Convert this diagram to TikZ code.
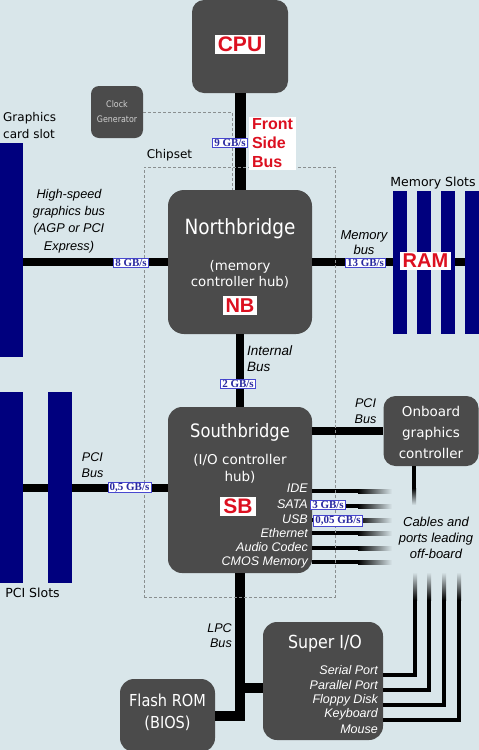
\documentclass[tikz,border=0pt]{standalone}
\usepackage{fontspec}
\setmainfont{Liberation Sans}
\newfontfamily\dv{DejaVu Sans}
\newfontfamily\dvc[FakeStretch=0.88]{DejaVu Sans}
\newfontfamily\tms{Liberation Serif}
\newcommand\fsz[2]{\fontsize{#1}{#2}\selectfont}
\definecolor{bgc}{HTML}{D9E6EA}
\definecolor{boxc}{HTML}{4B4B4B}
\definecolor{slotc}{HTML}{00007E}
\definecolor{redc}{HTML}{DC1020}
\definecolor{ratec}{HTML}{2A2AA0}
\definecolor{rateb}{HTML}{4848D0}
\definecolor{dashc}{HTML}{8A8F90}
\definecolor{clkc}{HTML}{D0D0D0}
\begin{document}
\begin{tikzpicture}[x=1pt,y=-1pt,
  chip/.style={fill=boxc, rounded corners=#1, inner sep=0pt, draw=none},
  chip/.default=12pt,
  slotbar/.style={fill=slotc, inner sep=0pt, draw=none, anchor=north west},
  busw/.style={line width=#1, line join=miter},
  cable/.style={line width=4pt, line join=miter},
  rate/.style={draw=rateb, fill=white, text=ratec, font=\tms\bfseries\fsz{11}{11}, line width=0.8pt, inner xsep=1.6pt, inner ysep=0.8pt},
  redlab/.style={fill=white, text=redc, font=\bfseries\fsz{#1}{#1}, inner xsep=3pt, inner ysep=2.5pt},
  wtitle/.style={text=white, font=\dvc\fsz{#1}{#1}, inner sep=0pt},
  wsub/.style={text=white, align=center, inner sep=0pt},
  ilab/.style={align=center, inner sep=0pt},
  wlist/.style={text=white, font=\itshape\fsz{12.5}{12.5}, anchor=east, inner sep=0pt},
  plainlab/.style={inner sep=0pt},
  dashl/.style={draw=dashc, dash pattern=on 3pt off 2pt, line width=0.9pt},
]
\useasboundingbox (0,0) rectangle (479,750);
\clip (0,0) rectangle (479,750);
\fill[bgc] (0,0) rectangle (479,750);

% ---- boxes (placed first for anchors) ----
\node[chip=12pt, minimum width=96pt, minimum height=93pt] (cpu) at (240,46.5) {};
\node[chip=8pt, minimum width=52pt, minimum height=52pt] (clk) at (117,112) {};
\node[chip=16pt, minimum width=144pt, minimum height=144pt] (nb) at (240,262) {};
\node[chip=14pt, minimum width=144pt, minimum height=166pt] (sb) at (240,490) {};
\node[chip=12pt, minimum width=95pt, minimum height=70pt] (ogc) at (431,431) {};
\node[chip=14pt, minimum width=120pt, minimum height=118pt] (sio) at (323,681) {};
\node[chip=14pt, minimum width=95pt, minimum height=73pt] (flash) at (167.5,715.5) {};

% ---- coordinates for free ends ----
\coordinate (memend) at (479,262);
\coordinate (pcist) at (0,488);
\coordinate (fsbj) at (232,112);
\coordinate (oc) at (414,488);
\coordinate (k1) at (415,600);
\coordinate (k2) at (429,600);
\coordinate (k3) at (444,600);
\coordinate (k4) at (459,600);
\coordinate (o1) at (358,491);
\coordinate (o2) at (358,506);
\coordinate (o3) at (358,520);
\coordinate (o4) at (358,533);
\coordinate (o5) at (358,548);
\coordinate (o6) at (358,562);
\path (sio.west) ++(0,7) coordinate (sioj);

% ---- slots (nodes) ----
\node[slotbar, minimum width=23pt, minimum height=214pt] (gslot) at (0,143) {};

% ---- buses ----
\draw[busw=11pt] (cpu.south) -- (nb.north);
\draw[busw=8pt] (gslot.east |- nb.west) -- (nb.west);
\draw[busw=8pt] (nb.east) -- (memend);
\draw[busw=8pt] (nb.south) -- (sb.north);
\draw[busw=8pt] (pcist) -- (sb.west |- pcist);
\draw[busw=8pt] (sb.east |- ogc.west) -- (ogc.west);
\draw[busw=10pt] (sb.south) -- (sb.south |- flash.east) -- (flash.east);
\draw[busw=10pt] (sb.south |- sioj) -- (sioj);

% SB outputs fading
\foreach \c in {o1,o2,o3,o4,o5,o6}{
  \draw[cable] (sb.east |- \c) -- (\c);
  \path (\c) ++(0,-2) coordinate (a) (\c) ++(34,2) coordinate (b);
  \shade[left color=black, right color=bgc] (a) rectangle (b);
}
% onboard graphics down
\draw[cable] (ogc.south -| oc) -- (oc);
\shade[top color=black, bottom color=bgc] (412,488) rectangle (416,505);
% super io cables
\draw[cable] (sio.east) ++(0,-6) -| (k1);
\draw[cable] (sio.east) ++(0,9) -| (k2);
\draw[cable] (sio.east) ++(0,24) -| (k3);
\draw[cable] (sio.east) ++(0,39) -| (k4);
\foreach \c in {k1,k2,k3,k4}{
  \path (\c) ++(-2,-28) coordinate (a) (\c) ++(2,0) coordinate (b);
  \shade[top color=bgc, bottom color=black] (a) rectangle (b);
}

% ---- slot bars over buses ----
\node[slotbar, minimum width=14pt, minimum height=143pt] (ms1) at (393,191) {};
\node[slotbar, minimum width=14pt, minimum height=143pt] (ms2) at (417,191) {};
\node[slotbar, minimum width=14pt, minimum height=143pt] (ms3) at (441,191) {};
\node[slotbar, minimum width=14pt, minimum height=143pt] (ms4) at (465,191) {};
\node[slotbar, minimum width=23pt, minimum height=191pt] (ps1) at (0,392) {};
\node[slotbar, minimum width=24pt, minimum height=191pt] (ps2) at (48,392) {};

% ---- dashed chipset / clock ----
\node[dashl, minimum width=191pt, minimum height=430pt, inner sep=0pt] (chipset) at (239.5,382) {};
\draw[dashl] (clk.east) -- (fsbj) -- (fsbj |- nb.north);

% ---- box texts ----
\node[text=clkc, font=\dvc\fsz{9}{15}, align=center, inner sep=0pt] (clkt) at (117,112) {Clock\\Generator};
\node[redlab=21] (cpul) at (240,44.5) {CPU};
\node[wtitle=21] (nbt) at (240,229) {Northbridge};
\node[wsub, font=\dv\fsz{13.3}{16}] (nbs) at (240,274) {(memory\\controller hub)};
\node[redlab=20] (nbl) at (240,305.5) {NB};
\node[wtitle=18.5] (sbt) at (240,432) {Southbridge};
\node[wsub, font=\dv\fsz{13.5}{17}] (sbs) at (240,469) {(I/O controller\\hub)};
\node[redlab=21] (sbl) at (238,506.5) {SB};
\node[wlist] (l1) at (308,488) {IDE};
\node[wlist] (l2) at (308,504) {SATA};
\node[wlist] (l3) at (308,519) {USB};
\node[wlist] (l4) at (308,533) {Ethernet};
\node[wlist] (l5) at (308,547) {Audio Codec};
\node[wlist] (l6) at (308,562) {CMOS Memory};
\node[wsub, font=\dv\fsz{13.5}{21}] (ogct) at (431,432) {Onboard\\graphics\\controller};
\node[wtitle=18] (siot) at (325,644) {Super I/O};
\node[wlist] (s1) at (378,670) {Serial Port};
\node[wlist] (s2) at (378,685) {Parallel Port};
\node[wlist] (s3) at (378,700) {Floppy Disk};
\node[wlist] (s4) at (378,714) {Keyboard};
\node[wlist] (s5) at (378,729) {Mouse};
\node[wsub, font=\dvc\fsz{16.5}{22}] (flasht) at (167.5,712) {Flash ROM\\(BIOS)};

% ---- outside labels ----
\node[fill=white, text=redc, font=\bfseries\fsz{16}{19}, align=left, inner xsep=3pt, inner ysep=2pt] (fsb) at (272.5,143.5) {Front\\Side\\Bus};
\node[redlab=20] (raml) at (425.5,261) {RAM};
\node[plainlab, font=\dv\fsz{12}{17}, align=left, anchor=west] (gcs) at (3,125.5) {Graphics\\card slot};
\node[plainlab, font=\dv\fsz{12}{12}] (chipt) at (169.5,155) {Chipset};
\node[plainlab, font=\dv\fsz{12.5}{12.5}] (mst) at (433,183) {Memory Slots};
\node[plainlab, font=\dv\fsz{12.5}{12.5}] (pst) at (32.5,593) {PCI Slots};
\node[ilab, font=\itshape\fsz{12.7}{17.3}] (hsg) at (69,221) {High-speed\\graphics bus\\(AGP or PCI\\Express)};
\node[ilab, font=\itshape\fsz{13}{15.5}] (memb) at (364,242.5) {Memory\\bus};
\node[ilab, font=\itshape\fsz{13.5}{16.5}, align=left, anchor=west] (intb) at (247,358.5) {Internal\\Bus};
\node[ilab, font=\itshape\fsz{12.6}{16}] (pcib) at (92.5,465) {PCI\\Bus};
\node[ilab, font=\itshape\fsz{12.6}{16}] (pcib2) at (365.5,411) {PCI\\Bus};
\node[ilab, font=\itshape\fsz{12.6}{15}, align=right, anchor=east] (lpcb) at (232,635.5) {LPC\\Bus};
\node[ilab, font=\itshape\fsz{13}{16}] (cabl) at (436,538) {Cables and\\ports leading\\off-board};

% ---- rates ----
\node[rate] (r9) at (230,142.5) {9 GB/s};
\node[rate] (r8) at (131,262.5) {8 GB/s};
\node[rate] (r13) at (365.5,262.5) {13 GB/s};
\node[rate] (r2) at (238,384) {2 GB/s};
\node[rate] (r05) at (129.5,487.5) {0,5 GB/s};
\node[rate] (r3) at (328,505) {3 GB/s};
\node[rate] (r005) at (338,521) {0,05 GB/s};
\end{tikzpicture}
\end{document}
